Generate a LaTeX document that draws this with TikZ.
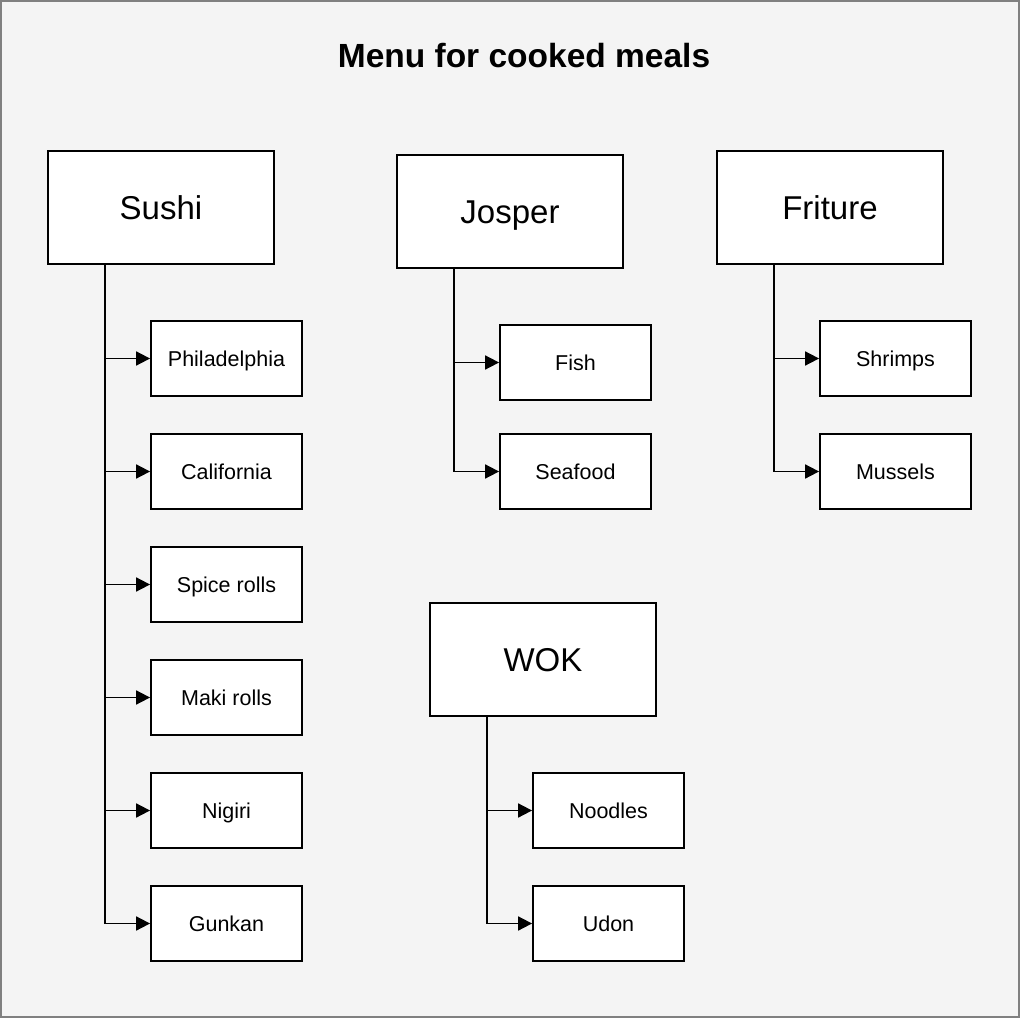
\documentclass[tikz,border=0pt]{standalone}
\usepackage{fontspec}
\setmainfont{Liberation Sans}
\usetikzlibrary{arrows.meta}
\definecolor{bgc}{HTML}{F4F4F4}
\definecolor{frame}{HTML}{808080}
\tikzset{
  boxbase/.style={draw=black, fill=white, line width=1.8pt, inner sep=0pt},
  bigbox/.style={boxbase, minimum width=226pt, minimum height=113pt, font=\fontsize{33}{38}\selectfont, text height=27pt, text depth=3.4pt},
  smallbox/.style={boxbase, minimum width=151pt, minimum height=75pt, font=\fontsize{21.5}{25}\selectfont, text height=18pt, text depth=2.6pt},
  link/.style={line width=1.8pt, -{Triangle[length=14pt,width=14pt]}}
}
\begin{document}
\begin{tikzpicture}[x=1pt,y=-1pt]
\useasboundingbox (0,0) rectangle (1021,1019);
\draw[frame, fill=bgc, line width=2pt] (1,1) rectangle (1019,1017);
\node[font=\bfseries\fontsize{33.5}{38}\selectfont] (title) at (524,56) {Menu for cooked meals};

% Sushi
\node[bigbox] (sushi) at (161,207.5) {Sushi};
\node[smallbox] (phil) at (226.5,358.5) {Philadelphia};
\node[smallbox] (cali) at (226.5,471.5) {California};
\node[smallbox] (spice) at (226.5,584.5) {Spice rolls};
\node[smallbox] (maki) at (226.5,697.5) {Maki rolls};
\node[smallbox] (nigiri) at (226.5,810.5) {Nigiri};
\node[smallbox] (gunkan) at (226.5,923.5) {Gunkan};
\coordinate (sushiT) at (105,264);
\foreach \c in {phil,cali,spice,maki,nigiri,gunkan}
  \draw[link] (sushiT) |- (\c.west);

% Josper
\node[bigbox] (josper) at (510,211.5) {Josper};
\node[smallbox] (fish) at (575.5,362.5) {Fish};
\node[smallbox] (seafood) at (575.5,471.5) {Seafood};
\coordinate (josperT) at (454,268);
\foreach \c in {fish,seafood}
  \draw[link] (josperT) |- (\c.west);

% Friture
\node[bigbox] (friture) at (830,207.5) {Friture};
\node[smallbox] (shrimps) at (895.5,358.5) {Shrimps};
\node[smallbox] (mussels) at (895.5,471.5) {Mussels};
\coordinate (fritureT) at (774,264);
\foreach \c in {shrimps,mussels}
  \draw[link] (fritureT) |- (\c.west);

% WOK
\node[bigbox] (wok) at (543,659.5) {WOK};
\node[smallbox] (noodles) at (608.5,810.5) {Noodles};
\node[smallbox] (udon) at (608.5,923.5) {Udon};
\coordinate (wokT) at (487,716);
\foreach \c in {noodles,udon}
  \draw[link] (wokT) |- (\c.west);
\end{tikzpicture}
\end{document}
